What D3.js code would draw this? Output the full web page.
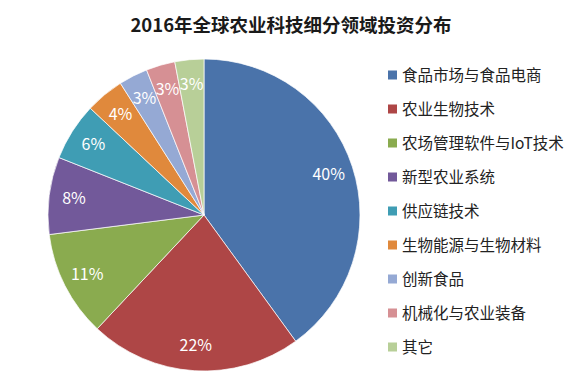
<!DOCTYPE html>
<html>
<head>
<meta charset="utf-8">
<script src="https://cdn.jsdelivr.net/npm/d3@7"></script>
<style>
  body { margin: 0; background: #fff; }
  svg text { font-family: "Noto Sans CJK SC", "Microsoft YaHei", sans-serif; }
</style>
</head>
<body>
<div id="chart"></div>
<script>
const w = 581;
const h = 371;

// data
const categories = ["食品市场与食品电商", "农业生物技术", "农场管理软件与IoT技术", "新型农业系统",
                    "供应链技术", "生物能源与生物材料", "创新食品", "机械化与农业装备", "其它"];
const shares = [40, 22, 11, 8, 6, 4, 3, 3, 3];
const colors = ["#4a73aa", "#ae4646", "#8aab4f", "#72599a", "#3f9db4", "#e0893c", "#95a9d4", "#d69094", "#b8cf98"];

const cx = 204, cy = 215, R = 156;

const svg = d3.select("#chart")
  .append("svg")
    .attr("width", w)
    .attr("height", h);

//------------------------------title------------------------------
svg.append("text")
   .attr("x", 291)
   .attr("y", 32)
   .attr("text-anchor", "middle")
   .attr("font-size", "18.5px")
   .attr("font-weight", "bold")
   .attr("fill", "#1a1a1a")
   .text("2016年全球农业科技细分领域投资分布");

//------------------------------pie------------------------------
const pie = d3.pie().sort(null).value(d => d.v);
const data = categories.map((c, i) => ({name: c, v: shares[i], color: colors[i]}));
const arcs = pie(data);

const arc = d3.arc().innerRadius(0).outerRadius(R);
const labelArc = d3.arc().innerRadius(R * 0.84).outerRadius(R * 0.84);

const g = svg.append("g")
  .attr("transform", "translate(" + cx + "," + cy + ")");

g.selectAll("path")
  .data(arcs)
  .enter()
  .append("path")
    .attr("d", arc)
    .attr("fill", d => d.data.color)
    .attr("stroke", "#fff")
    .attr("stroke-width", 0.7);

g.selectAll("text.pct")
  .data(arcs)
  .enter()
  .append("text")
    .attr("class", "pct")
    .attr("transform", d => "translate(" + labelArc.centroid(d) + ")")
    .attr("text-anchor", "middle")
    .attr("dy", "0.35em")
    .attr("font-size", "16px")
    .attr("fill", "#fff")
    .text(d => d.data.v + "%");

//------------------------------legend------------------------------
const y0 = 75, step = 34;
const legend = svg.append("g")
  .selectAll("g")
  .data(data)
  .enter()
  .append("g")
    .attr("transform", (d, i) => "translate(388," + (y0 + i * step) + ")");

legend.append("rect")
  .attr("x", 0)
  .attr("y", -4.5)
  .attr("width", 9)
  .attr("height", 9)
  .attr("fill", d => d.color);

legend.append("text")
  .attr("x", 14)
  .attr("dy", "0.36em")
  .attr("font-size", "15.5px")
  .attr("fill", "#222")
  .text(d => d.name);
</script>
</body>
</html>
